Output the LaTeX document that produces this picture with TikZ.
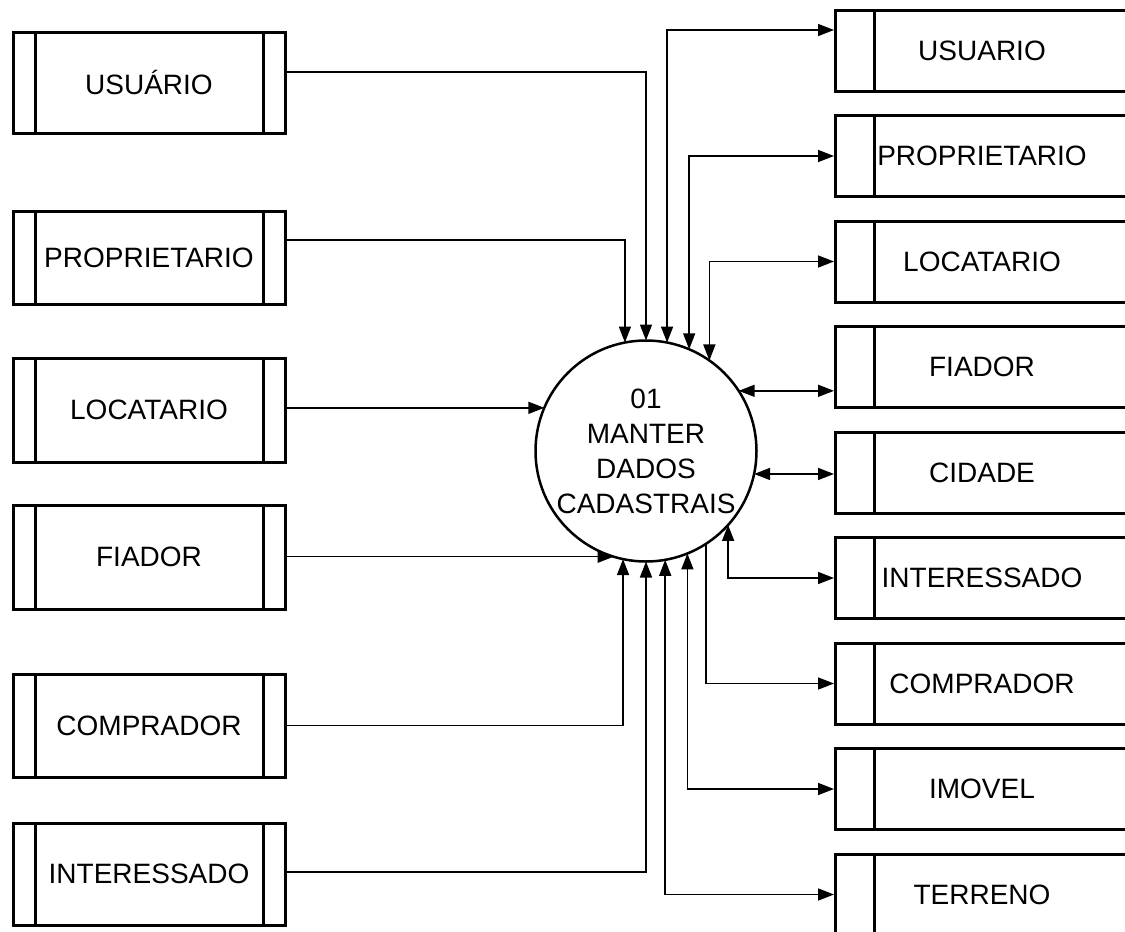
\documentclass[tikz,border=0pt]{standalone}
\usepackage{fontspec}
\setmainfont{Liberation Sans}
\usetikzlibrary{arrows.meta}
\newcommand\boxfont{\fontsize{28}{35}\selectfont}
\begin{document}
\begin{tikzpicture}[x=1pt,y=-1pt,
  >={Triangle[length=16pt,width=12pt]},
  flow/.style={line width=1.6pt},
  lstore/.style={draw, line width=3pt, minimum width=272pt, inner sep=0pt,
    font=\boxfont,
    path picture={
      \draw[line width=3pt]
        ([xshift=22pt]path picture bounding box.north west) --
        ([xshift=22pt]path picture bounding box.south west)
        ([xshift=-22pt]path picture bounding box.north east) --
        ([xshift=-22pt]path picture bounding box.south east);}},
  rstore/.style={draw, line width=3pt, minimum width=293pt, minimum height=81pt,
    inner sep=0pt, font=\boxfont,
    path picture={
      \draw[line width=3pt]
        ([xshift=38.5pt]path picture bounding box.north west) --
        ([xshift=38.5pt]path picture bounding box.south west);}},
  process/.style={circle, draw, line width=2.5pt, minimum size=221pt,
    inner sep=0pt, outer sep=0pt, align=center, font=\boxfont}
]
\fill[white] (0,0) rectangle (1125,932);
\useasboundingbox (0,0) rectangle (1125,932);
\clip (0,0) rectangle (1125,932);

% central process
\node[process] (c) at (646,451) {01\\MANTER\\DADOS\\CADASTRAIS};

% external entities on the left
\node[lstore, minimum height=101pt] (l1) at (149,82.5) {USUÁRIO};
\node[lstore, minimum height=93pt]  (l2) at (149,257.5) {PROPRIETARIO};
\node[lstore, minimum height=104pt] (l3) at (149,410) {LOCATARIO};
\node[lstore, minimum height=104pt] (l4) at (149,557) {FIADOR};
\node[lstore, minimum height=103pt] (l5) at (149,725.5) {COMPRADOR};
\node[lstore, minimum height=102pt] (l6) at (149,874) {INTERESSADO};

% data stores on the right
\node[rstore] (r1) at (982,50.5)  {USUARIO};
\node[rstore] (r2) at (982,156)   {PROPRIETARIO};
\node[rstore] (r3) at (982,261.5) {LOCATARIO};
\node[rstore] (r4) at (982,367)   {FIADOR};
\node[rstore] (r5) at (982,472.5) {CIDADE};
\node[rstore] (r6) at (982,578)   {INTERESSADO};
\node[rstore] (r7) at (982,683.5) {COMPRADOR};
\node[rstore] (r8) at (982,789)   {IMOVEL};
\node[rstore] (r9) at (982,894.5) {TERRENO};

% inputs from the entities
\draw[flow,->] ([yshift=10.5pt]l1.east) -| (c.90);
\draw[flow,->] ([yshift=17.5pt]l2.east) -| (c.101.9);
\draw[flow,->] (l3.east |- c.157.9) -- (c.157.9);
\draw[flow,->] (l4.east |- c.253.7) -- (c.253.7);
\draw[flow,->] (l5.east) -| (c.258.1);
\draw[flow,->] ([yshift=2pt]l6.east) -| (c.270);

% flows to and from the data stores
\draw[flow,<->] (c.79.1) |- ([yshift=20.5pt]r1.west);
\draw[flow,<->] (c.67.9) |- (r2.west);
\draw[flow,<->] (c.55.6) |- (r3.west);
\draw[flow,<->] (c.33.8) -- (c.33.8 -| r4.west);
\draw[flow,<->] (c.348.6) -- (c.348.6 -| r5.west);
\draw[flow,<->] (c.318.9) |- (r6.west);
\draw[flow,->]  (c.303.8) |- (r7.west);
\draw[flow,<->] (c.292.1) |- (r8.west);
\draw[flow,<->] (c.280.9) |- (r9.west);
\end{tikzpicture}
\end{document}
